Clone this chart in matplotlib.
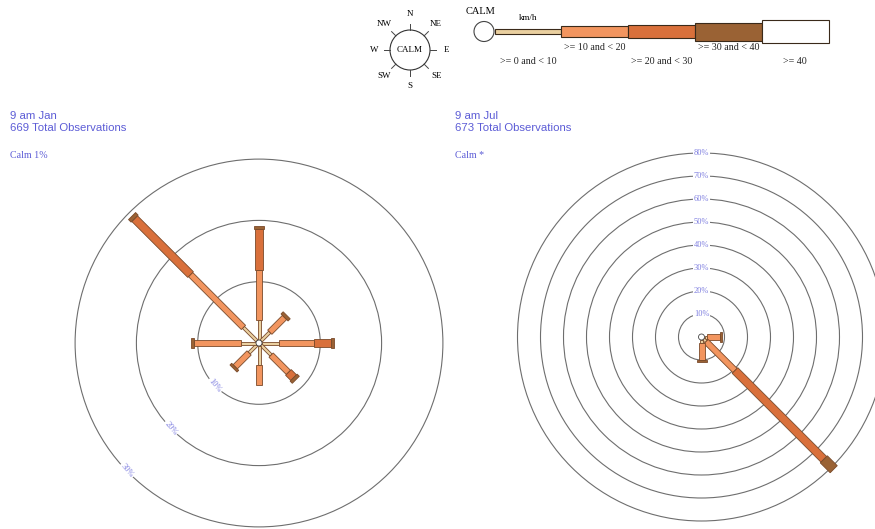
import numpy as np
import matplotlib.pyplot as plt
from matplotlib.patches import Polygon, Circle, Rectangle

directions = ['N', 'NE', 'E', 'SE', 'S', 'SW', 'W', 'NW']
speed_classes = ['>= 0 and < 10', '>= 10 and < 20', '>= 20 and < 30',
                 '>= 30 and < 40', '>= 40']
class_colors = ['#ead0a0', '#f2955f', '#d9703b', '#9a6234', '#ffffff']

# % of observations per direction (rows) and speed class (columns)
jan_pct = [
    [3.3, 8.1, 6.7, 0.5, 0],    # N
    [2.0, 3.4, 0.0, 0.5, 0],    # NE
    [2.8, 5.7, 2.8, 0.4, 0],    # E
    [2.3, 4.0, 1.2, 0.5, 0],    # SE
    [3.1, 3.3, 0.0, 0.0, 0],    # S
    [1.8, 3.2, 0.0, 0.4, 0],    # SW
    [2.5, 7.6, 0.0, 0.5, 0],    # W
    [3.1, 12.2, 12.9, 0.6, 0],  # NW
]
jul_pct = [
    [0, 0, 0, 0, 0],            # N
    [0, 0, 0, 0, 0],            # NE
    [1.2, 5.6, 0.0, 0.6, 0],    # E
    [1.5, 17.8, 54.6, 6.1, 0],  # SE
    [1.2, 7.6, 0.0, 0.8, 0],    # S
    [0, 0, 0, 0, 0],            # SW
    [0, 0, 0, 0, 0],            # W
    [0, 0, 0, 0, 0],            # NW
]
jan_rings = [10, 20, 30]
jul_rings = [10, 20, 30, 40, 50, 60, 70, 80]
jan_title = ['9 am Jan', '669 Total Observations']
jul_title = ['9 am Jul', '673 Total Observations']
jan_calm = 'Calm 1%'
jul_calm = 'Calm *'

W, H = 875, 529
SERIF = 'Liberation Serif'
SANS = 'Liberation Sans'
BLUE = '#5c5cd6'
RING_TXT = '#7f7fe0'
EDGE = '#7a4a2a'

fig = plt.figure(figsize=(W / 100, H / 100), dpi=100)
fig.patch.set_facecolor('white')


def rose_axes(cx, cy, px_per_pct, half=200):
    ax = fig.add_axes([(cx - half) / W, (H - cy - half) / H, 2 * half / W, 2 * half / H])
    lim = half / px_per_pct
    ax.set_xlim(-lim, lim)
    ax.set_ylim(-lim, lim)
    ax.axis('off')
    return ax


def draw_rose(ax, pct, rings, px_per_pct, label_bearing, label_rot):
    px = 1.0 / px_per_pct
    calm_r = 3 * px
    widths = np.array([3, 6, 8, 10, 10]) * px
    for r in rings:
        ax.add_patch(Circle((0, 0), r, fill=False, ec='#6e6e6e', lw=0.8, zorder=1))
        b = np.deg2rad(label_bearing)
        ax.text(r * np.sin(b), r * np.cos(b), f'{r}%', family=SERIF, fontsize=6,
                color=RING_TXT, ha='center', va='center', rotation=label_rot, zorder=2,
                bbox=dict(fc='white', ec='none', pad=0.8))
    for d, row in enumerate(pct):
        th = np.deg2rad(d * 45)
        u = np.array([np.sin(th), np.cos(th)])
        n = np.array([np.cos(th), -np.sin(th)])
        r0 = calm_r
        for k, v in enumerate(row):
            if v <= 0:
                continue
            r1 = r0 + v
            h = widths[k] / 2
            pts = [u * r0 + n * h, u * r1 + n * h, u * r1 - n * h, u * r0 - n * h]
            ax.add_patch(Polygon(pts, closed=True, fc=class_colors[k], ec=EDGE,
                                 lw=0.6, zorder=3))
            r0 = r1
    ax.add_patch(Circle((0, 0), calm_r, fc='white', ec='#444444', lw=0.6, zorder=4))


# overlay in pixel units for the key and the headings
key = fig.add_axes([0, 0, 1, 1])
key.set_xlim(0, W)
key.set_ylim(H, 0)
key.axis('off')

# compass key
ccx, ccy, cr = 410, 50, 20
key.add_patch(Circle((ccx, ccy), cr, fill=False, ec='#333333', lw=0.8))
key.text(ccx, ccy, 'CALM', family=SERIF, fontsize=6.5, ha='center', va='center')
for d, name in enumerate(directions):
    th = np.deg2rad(d * 45)
    sx, sy = np.sin(th), -np.cos(th)
    key.plot([ccx + cr * sx, ccx + (cr + 6) * sx], [ccy + cr * sy, ccy + (cr + 6) * sy],
             color='#444444', lw=0.7)
    lr = 36 if d % 2 == 0 else 37
    key.text(ccx + lr * sx, ccy + lr * sy, name, family=SERIF, fontsize=6.5,
             ha='center', va='center')

# speed class key
key.add_patch(Circle((484, 31.5), 10, fc='white', ec='#444444', lw=0.8))
key.text(481, 12, 'CALM', family=SERIF, fontsize=7.5, ha='center', va='center')
key.text(528, 18, 'km/h', family=SERIF, fontsize=6.5, ha='center', va='center')
bar_h = [5, 11, 13, 18, 23]
seg_w = 66.8
for k, name in enumerate(speed_classes):
    x0 = 494.5 + k * seg_w
    key.add_patch(Rectangle((x0, 31.5 - bar_h[k] / 2), seg_w, bar_h[k],
                            fc=class_colors[k], ec='#3a2a1a', lw=0.8))
    ly = 48 if k % 2 else 62
    key.text(x0 + seg_w / 2, ly, name, family=SERIF, fontsize=7.2,
             ha='center', va='center', color='#222222')

# headings
for x0, title, calm in [(10, jan_title, jan_calm), (455, jul_title, jul_calm)]:
    key.text(x0, 116, title[0], family=SANS, fontsize=8.2, color=BLUE, va='center')
    key.text(x0, 128, title[1], family=SANS, fontsize=8.2, color=BLUE, va='center')
    key.text(x0, 155, calm, family=SERIF, fontsize=7.2, color=BLUE, va='center')

ax_jan = rose_axes(259, 343, 6.13)
draw_rose(ax_jan, jan_pct, jan_rings, 6.13, 226, -50)

ax_jul = rose_axes(701.5, 337, 2.3)
draw_rose(ax_jul, jul_pct, jul_rings, 2.3, 0, 0)

fig.savefig('out.png', dpi=100, facecolor='white')
